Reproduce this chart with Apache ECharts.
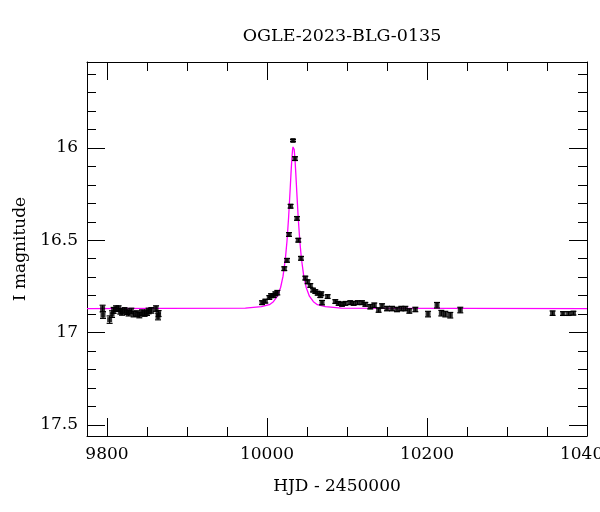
<!DOCTYPE html>
<html><head><meta charset="utf-8">
<script src="https://cdn.jsdelivr.net/npm/echarts@6/dist/echarts.min.js"></script>
<style>html,body{margin:0;padding:0;background:#fff}#c{width:600px;height:512px}</style>
</head><body><div id="c"></div>
<script>
// Observations (HJD - 2450000, I mag, error)
const obsTime = [
  9794.5, 9795.0, 9803.3, 9806.3, 9808.3, 9811.3, 9814.5, 9816.6, 9818.8, 9822.0,
  9825.0, 9827.0, 9830.4, 9833.3, 9837.5, 9840.4, 9843.8, 9847.0, 9850.0, 9852.0,
  9855.4, 9861.3, 9863.8, 9864.5,
  9993.8, 9997.9, 10002.9, 10005.0, 10008.3, 10010.4, 10012.9,
  10021.6, 10025.0, 10027.5, 10029.5, 10032.5, 10035.0, 10037.5, 10039.1, 10042.5,
  10047.9, 10050.8, 10054.1, 10057.5, 10060.4, 10063.3, 10066.6, 10067.9, 10068.8,
  10075.8, 10085.4, 10089.5, 10093.8, 10097.9, 10104.1, 10108.3, 10113.3, 10118.8,
  10122.9, 10129.1, 10134.1, 10139.5, 10143.8, 10150.0, 10156.3, 10162.5, 10167.9,
  10172.9, 10177.9, 10185.4, 10201.3, 10212.5, 10217.9, 10222.9, 10229.1, 10241.6,
  10357.0, 10370.0, 10377.0, 10383.0
];
const obsMag = [
  16.870, 16.905, 16.930, 16.900, 16.880, 16.870, 16.870, 16.885, 16.890, 16.880,
  16.887, 16.895, 16.883, 16.900, 16.897, 16.905, 16.892, 16.897, 16.892, 16.883,
  16.880, 16.870, 16.913, 16.897,
  16.838, 16.830, 16.810, 16.800, 16.800, 16.790, 16.784,
  16.654, 16.609, 16.469, 16.316, 15.960, 16.058, 16.382, 16.500, 16.598,
  16.705, 16.725, 16.745, 16.770, 16.778, 16.787, 16.800, 16.790, 16.838,
  16.805, 16.832, 16.842, 16.847, 16.842, 16.838, 16.842, 16.838, 16.838,
  16.847, 16.860, 16.852, 16.878, 16.856, 16.870, 16.870, 16.875, 16.870,
  16.870, 16.883, 16.875, 16.900, 16.852, 16.895, 16.900, 16.906, 16.878,
  16.895, 16.897, 16.897, 16.895
];
const obsErr = [
  0.018, 0.018, 0.020, 0.018, 0.016, 0.015, 0.015, 0.015, 0.016, 0.015,
  0.015, 0.015, 0.015, 0.015, 0.015, 0.015, 0.015, 0.015, 0.015, 0.015,
  0.015, 0.015, 0.018, 0.016,
  0.010, 0.010, 0.010, 0.010, 0.010, 0.010, 0.012,
  0.010, 0.010, 0.010, 0.010, 0.006, 0.010, 0.010, 0.010, 0.010,
  0.010, 0.010, 0.010, 0.010, 0.010, 0.010, 0.010, 0.010, 0.012,
  0.010, 0.010, 0.010, 0.010, 0.010, 0.010, 0.010, 0.010, 0.010,
  0.010, 0.012, 0.012, 0.012, 0.012, 0.012, 0.012, 0.012, 0.012,
  0.012, 0.012, 0.012, 0.015, 0.015, 0.015, 0.015, 0.015, 0.015,
  0.012, 0.010, 0.010, 0.010
];
// Model light curve
const modelTime = [
  9775, 9973, 9993, 10003, 10008, 10013, 10017, 10020, 10023, 10025, 10027, 10028,
  10029, 10030, 10031, 10032, 10032.5, 10033, 10033.5, 10034, 10035, 10036, 10037,
  10038, 10039, 10041, 10043, 10046, 10049, 10053, 10058, 10063, 10073, 10093, 10400
];
const modelMag = [
  16.870, 16.868, 16.859, 16.849, 16.833, 16.803, 16.756, 16.696, 16.599, 16.504, 16.377, 16.300,
  16.220, 16.138, 16.063, 16.009, 15.995, 15.990, 15.995, 16.009, 16.063, 16.138, 16.220,
  16.300, 16.377, 16.504, 16.599, 16.696, 16.756, 16.803, 16.833, 16.849, 16.859, 16.868, 16.870
];
// Axis ticks
const xMajor = [9800, 10000, 10200, 10400];
const xMinor = [9800, 9850, 9900, 9950, 10000, 10050, 10100, 10150, 10200, 10250, 10300, 10350, 10400];
const yMajor = [16, 16.5, 17, 17.5];
const yMinor = [15.6, 15.7, 15.8, 15.9, 16, 16.1, 16.2, 16.3, 16.4, 16.5, 16.6, 16.7, 16.8, 16.9, 17, 17.1, 17.2, 17.3, 17.4, 17.5];
const titleText = 'OGLE-2023-BLG-0135';
const xName = 'HJD - 2450000';
const yName = 'I magnitude';

const FONT = 'DejaVu Serif';
const FS = 17;
const XMIN = 9775, XMAX = 10400, YMIN = 15.535, YMAX = 17.56;
const lineStyle = {color: '#000', width: 1};

function xAx(pos, ticks, len, main) {
  return {
    type: 'value', position: pos, min: XMIN, max: XMAX,
    axisLine: {show: main, lineStyle: lineStyle, onZero: false},
    axisTick: {show: true, inside: true, length: len, lineStyle: lineStyle, customValues: ticks},
    axisLabel: main && pos === 'bottom' ? {show: true, customValues: xMajor, color: '#000', fontFamily: FONT, fontSize: FS, margin: 10,
      formatter: v => String(v)} : {show: false},
    splitLine: {show: false},
    name: main && pos === 'bottom' ? xName : '',
    nameLocation: 'middle', nameGap: 42,
    nameTextStyle: {color: '#000', fontFamily: FONT, fontSize: FS}
  };
}
function yAx(pos, ticks, len, main) {
  return {
    type: 'value', position: pos, min: YMIN, max: YMAX, inverse: true,
    axisLine: {show: main, lineStyle: lineStyle, onZero: false},
    axisTick: {show: true, inside: true, length: len, lineStyle: lineStyle, customValues: ticks},
    axisLabel: main && pos === 'left' ? {show: true, customValues: yMajor, color: '#000', fontFamily: FONT, fontSize: FS, margin: 9,
      formatter: v => String(v)} : {show: false},
    splitLine: {show: false},
    name: main && pos === 'left' ? yName : '',
    nameLocation: 'middle', nameGap: 58,
    nameTextStyle: {color: '#000', fontFamily: FONT, fontSize: FS}
  };
}

const obsData = obsTime.map((t, i) => [t, obsMag[i], obsErr[i]]);
const modelData = modelTime.map((t, i) => [t, modelMag[i]]);

const chart = echarts.init(document.getElementById('c'), null, {renderer: 'canvas'});
chart.setOption({
  animation: false,
  backgroundColor: '#fff',
  title: {text: titleText, left: 337, top: 22, textAlign: 'center',
    textStyle: {color: '#000', fontFamily: FONT, fontSize: 17.5, fontWeight: 'normal'}},
  grid: {left: 87, right: 13, top: 62, bottom: 76, containLabel: false, outerBoundsMode: 'none'},
  xAxis: [
    xAx('bottom', xMajor, 18, true),
    xAx('bottom', xMinor, 9, false),
    xAx('top', xMajor, 18, true),
    xAx('top', xMinor, 9, false)
  ],
  yAxis: [
    yAx('left', yMajor, 18, true),
    yAx('left', yMinor, 9, false),
    yAx('right', yMajor, 18, true),
    yAx('right', yMinor, 9, false)
  ],
  series: [
    {type: 'line', xAxisIndex: 0, yAxisIndex: 0, data: modelData, showSymbol: false,
     lineStyle: {color: '#ff00ff', width: 1.3}, z: 1, silent: true},
    {type: 'custom', xAxisIndex: 0, yAxisIndex: 0, data: obsData, z: 2,
     encode: {x: 0, y: 1},
     renderItem: function (params, api) {
       const x = api.value(0), y = api.value(1), e = api.value(2);
       const p1 = api.coord([x, y - e]), p2 = api.coord([x, y + e]);
       const w = 3, st = {stroke: '#000', lineWidth: 1.2};
       return {type: 'group', children: [
         {type: 'line', shape: {x1: p1[0], y1: p1[1], x2: p2[0], y2: p2[1]}, style: st},
         {type: 'line', shape: {x1: p1[0] - w, y1: p1[1], x2: p1[0] + w, y2: p1[1]}, style: st},
         {type: 'line', shape: {x1: p2[0] - w, y1: p2[1], x2: p2[0] + w, y2: p2[1]}, style: st}
       ]};
     }},
    {type: 'scatter', xAxisIndex: 0, yAxisIndex: 0, data: obsData, symbol: 'rect', symbolSize: 5,
     itemStyle: {color: '#000'}, z: 3}
  ]
});
</script>
</body></html>
